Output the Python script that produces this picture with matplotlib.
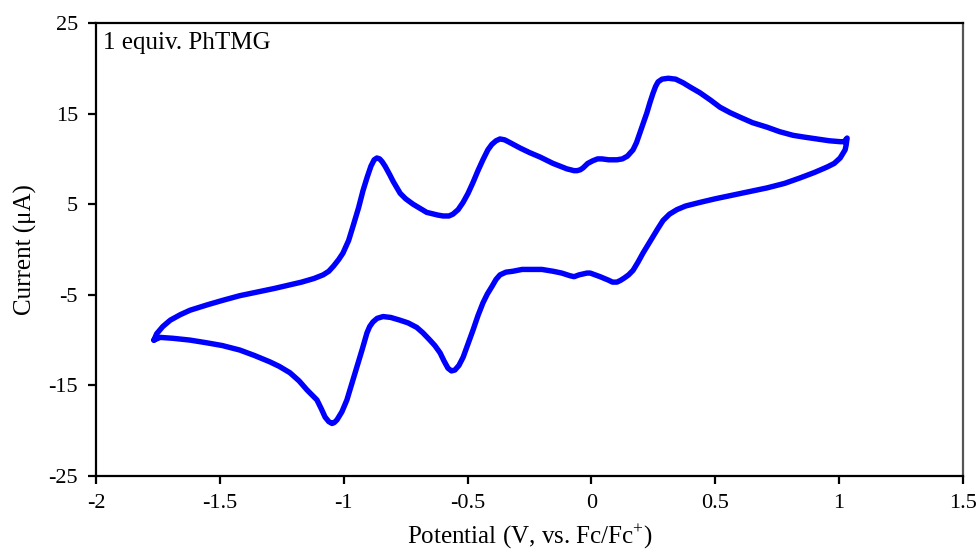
import matplotlib
matplotlib.use('Agg')
import matplotlib.pyplot as plt

# forward (anodic) sweep, left vertex -> right vertex
fwd_potential = [-1.766, -1.755, -1.73, -1.70, -1.66, -1.62, -1.55, -1.487, -1.42, -1.35,
                 -1.28, -1.217, -1.17, -1.12, -1.083, -1.06, -1.04, -1.02, -1.003, -0.98,
                 -0.962, -0.94, -0.922, -0.905, -0.89, -0.877, -0.866, -0.855, -0.845, -0.833,
                 -0.815, -0.80, -0.772, -0.75, -0.72, -0.665, -0.62, -0.599, -0.575, -0.559,
                 -0.538, -0.518, -0.498, -0.478, -0.458, -0.438, -0.418, -0.402, -0.385, -0.369,
                 -0.35, -0.329, -0.288, -0.25, -0.207, -0.155, -0.099, -0.07, -0.058, -0.045,
                 -0.034, -0.015, 0.006, 0.025, 0.042, 0.07, 0.103, 0.125, 0.145, 0.168,
                 0.182, 0.196, 0.21, 0.224, 0.236, 0.248, 0.259, 0.269, 0.285, 0.31,
                 0.34, 0.37, 0.4, 0.438, 0.48, 0.519, 0.56, 0.6, 0.65, 0.709,
                 0.76, 0.814, 0.86, 0.911, 0.96, 1.004, 1.02, 1.032]
fwd_current = [-10.0, -9.3, -8.5, -7.8, -7.2, -6.7, -6.1, -5.6, -5.1, -4.7,
               -4.3, -3.9, -3.6, -3.2, -2.8, -2.4, -1.8, -1.1, -0.4, 1.0,
               2.6, 4.6, 6.5, 8.0, 9.2, 9.9, 10.1, 10.0, 9.7, 9.2,
               8.3, 7.5, 6.2, 5.6, 5.0, 4.1, 3.8, 3.7, 3.7, 3.9,
               4.4, 5.2, 6.2, 7.4, 8.7, 9.9, 11.0, 11.6, 12.0, 12.2,
               12.1, 11.8, 11.2, 10.7, 10.2, 9.5, 8.9, 8.7, 8.7, 8.8,
               9.0, 9.5, 9.8, 10.0, 10.0, 9.9, 9.9, 10.0, 10.3, 11.0,
               11.8, 12.9, 14.0, 15.1, 16.2, 17.2, 18.0, 18.5, 18.8, 18.9,
               18.8, 18.4, 17.9, 17.3, 16.5, 15.7, 15.1, 14.6, 14.0, 13.5,
               13.0, 12.6, 12.4, 12.2, 12.0, 11.9, 11.9, 12.3]

# reverse (cathodic) sweep, right vertex -> left vertex
rev_potential = [1.028, 1.024, 1.004, 0.98, 0.951, 0.9, 0.842, 0.78, 0.709, 0.64,
                 0.572, 0.5, 0.438, 0.38, 0.345, 0.315, 0.289, 0.268, 0.248, 0.228,
                 0.208, 0.188, 0.168, 0.15, 0.135, 0.118, 0.103, 0.085, 0.07, 0.035,
                 -0.005, -0.018, -0.035, -0.05, -0.07, -0.086, -0.12, -0.155, -0.2, -0.236,
                 -0.28, -0.317, -0.345, -0.369, -0.385, -0.402, -0.42, -0.438, -0.458, -0.478,
                 -0.498, -0.518, -0.535, -0.551, -0.565, -0.579, -0.595, -0.611, -0.632, -0.652,
                 -0.68, -0.705, -0.74, -0.773, -0.81, -0.841, -0.865, -0.882, -0.895, -0.906,
                 -0.925, -0.947, -0.967, -0.987, -1.007, -1.027, -1.038, -1.047, -1.06, -1.075,
                 -1.09, -1.108, -1.148, -1.18, -1.217, -1.26, -1.298, -1.36, -1.419, -1.49,
                 -1.552, -1.62, -1.689, -1.741, -1.766]
rev_current = [11.5, 11.0, 10.1, 9.5, 9.1, 8.5, 7.9, 7.3, 6.8, 6.4,
               6.0, 5.6, 5.2, 4.8, 4.4, 3.9, 3.2, 2.3, 1.4, 0.5,
               -0.4, -1.4, -2.3, -2.8, -3.1, -3.4, -3.6, -3.6, -3.4, -3.0,
               -2.6, -2.6, -2.7, -2.8, -3.0, -2.9, -2.6, -2.4, -2.2, -2.2,
               -2.2, -2.4, -2.5, -2.8, -3.3, -4.1, -4.9, -5.9, -7.3, -8.9,
               -10.4, -11.9, -12.8, -13.3, -13.4, -13.1, -12.3, -11.4, -10.6, -10.0,
               -9.2, -8.6, -8.1, -7.8, -7.5, -7.4, -7.6, -8.0, -8.5, -9.2,
               -11.0, -13.0, -14.8, -16.6, -17.9, -18.8, -19.1, -19.2, -19.0, -18.5,
               -17.6, -16.6, -15.5, -14.5, -13.6, -12.9, -12.4, -11.7, -11.1, -10.6,
               -10.3, -10.0, -9.8, -9.7, -10.0]

x_ticks = [-2, -1.5, -1, -0.5, 0, 0.5, 1, 1.5]
x_tick_labels = ['-2', '-1.5', '-1', '-0.5', '0', '0.5', '1', '1.5']
y_ticks = [-25, -15, -5, 5, 15, 25]
y_tick_labels = ['-25', '-15', '-5', '5', '15', '25']

plt.rcParams['font.family'] = ['Liberation Serif', 'DejaVu Serif']
plt.rcParams['mathtext.fontset'] = 'custom'
plt.rcParams['mathtext.rm'] = 'Liberation Serif'
plt.rcParams['axes.unicode_minus'] = False

fig = plt.figure(figsize=(9.79, 5.55), dpi=100)
ax = fig.add_axes([0.098, 0.1423, 0.8857, 0.8163])

potential = fwd_potential + rev_potential
current = fwd_current + rev_current
ax.plot(potential, current, color='#0000ff', linewidth=3.9,
        solid_joinstyle='round', solid_capstyle='round')

ax.set_xlim(-2, 1.5)
ax.set_ylim(-25, 25)
ax.set_xticks(x_ticks)
ax.set_xticklabels(x_tick_labels)
ax.set_yticks(y_ticks)
ax.set_yticklabels(y_tick_labels)

for side in ['left', 'bottom', 'top', 'right']:
    ax.spines[side].set_linewidth(1.6)
ax.spines['right'].set_color('#555555')
ax.tick_params(direction='out', length=6, width=1.6, labelsize=16, pad=7)

ax.set_xlabel('Potential (V, vs. Fc/Fc$^{+}$)', fontsize=18, labelpad=6)
ax.set_ylabel('Current (μA)', fontsize=18, labelpad=8)
ax.text(0.008, 0.98, '1 equiv. PhTMG', transform=ax.transAxes,
        fontsize=18, ha='left', va='top')

fig.savefig('out.png', dpi=100)
